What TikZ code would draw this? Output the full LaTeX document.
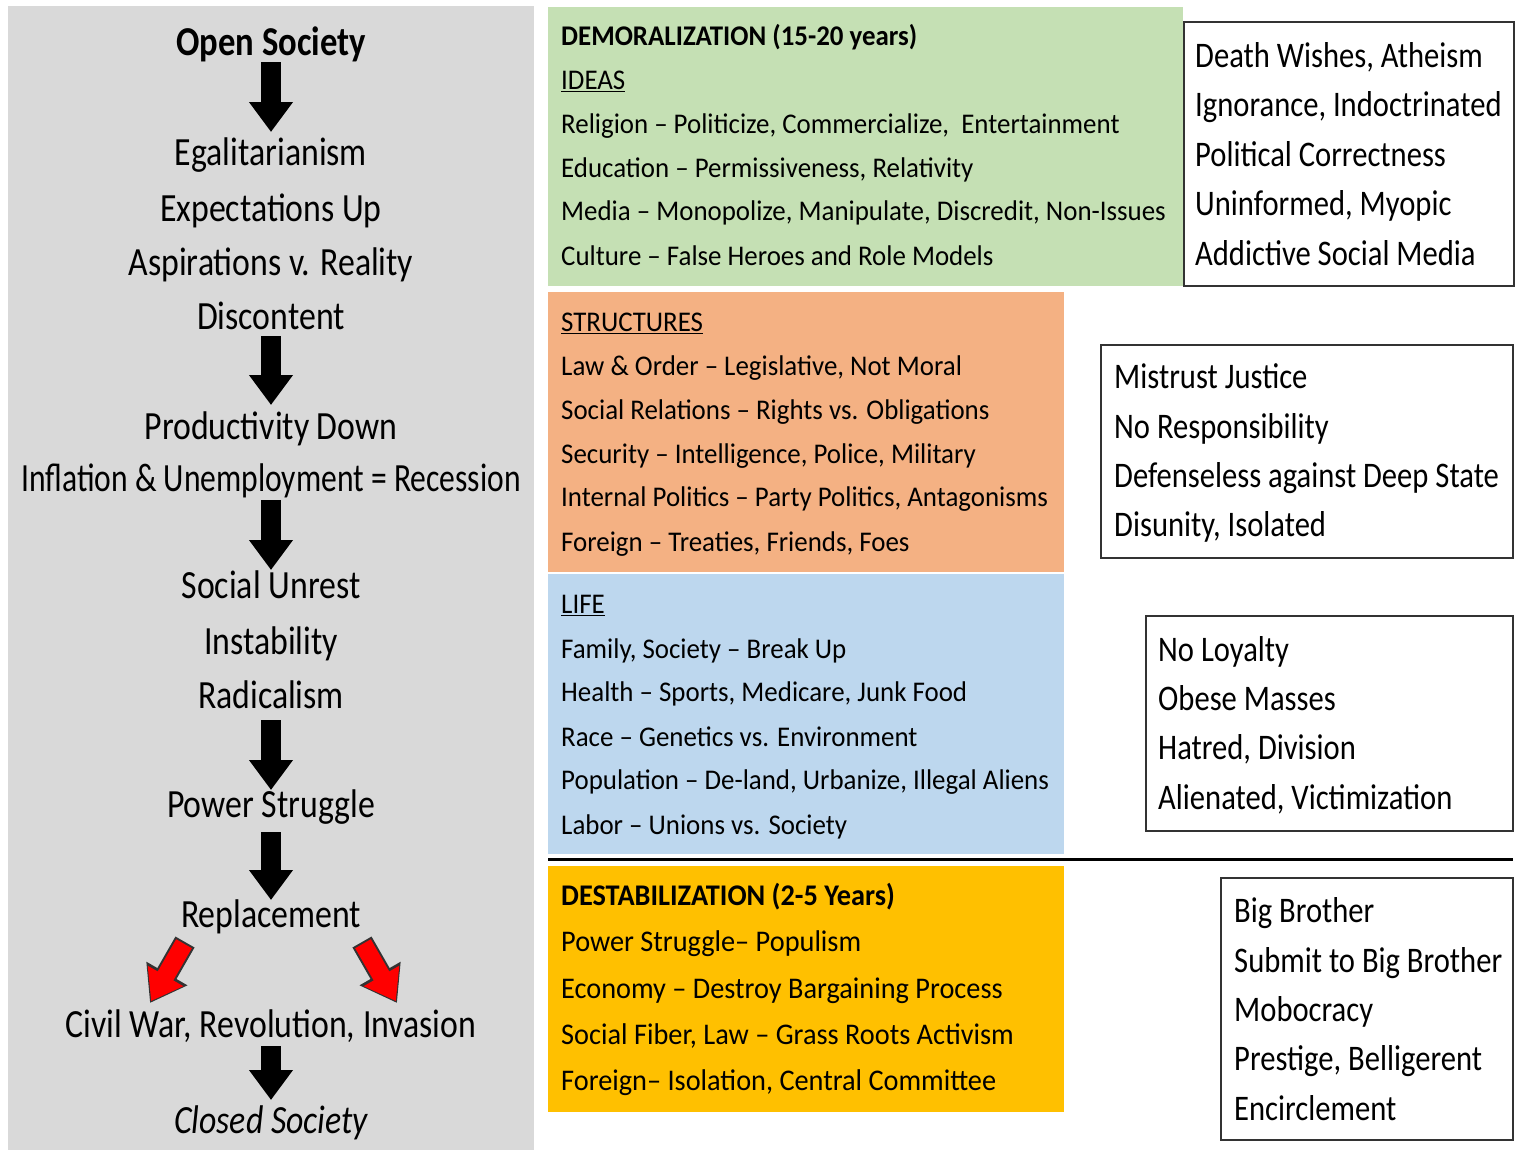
\documentclass[tikz,border=0pt]{standalone}
\usepackage{fontspec}
\setmainfont{Carlito}
\newfontfamily\lfont{Carlito}[FakeStretch=0.845]
\newfontfamily\lfontn{Carlito}[FakeStretch=0.79]
\newfontfamily\cfont{Carlito}[FakeStretch=0.944]
\newfontfamily\bfont{Carlito}[FakeStretch=0.85]
\usetikzlibrary{arrows.meta,calc}
\definecolor{panel}{HTML}{D9D9D9}
\definecolor{cgreen}{HTML}{C5E0B4}
\definecolor{corange}{HTML}{F4B183}
\definecolor{cblue}{HTML}{BDD7EE}
\definecolor{cyellow}{HTML}{FFC000}
\definecolor{cred}{HTML}{FF0000}
\begin{document}
\begin{tikzpicture}[x=1pt,y=-1pt,
  ltxt/.style={inner sep=0pt, font=\lfont\fontsize{40}{48}\selectfont, anchor=mid, yshift=-11pt},
  ctxt/.style={inner sep=0pt, font=\cfont\fontsize{28.5}{34}\selectfont, anchor=mid west, yshift=-7pt},
  ytxt/.style={ctxt, font=\cfont\fontsize{30}{36}\selectfont},
  btxt/.style={inner sep=0pt, font=\bfont\fontsize{36}{43}\selectfont, anchor=mid west, yshift=-9pt},
  blk/.style={line width=20pt, -{Triangle[width=42pt,length=30pt]}},
  redout/.style={line width=22pt, draw=black!80, -{Triangle[width=45pt,length=34pt]}},
  redin/.style={line width=18pt, draw=cred, shorten >=2.2pt, shorten <=2pt, -{Triangle[width=39pt,length=29pt]}},
  obox/.style={draw=black!80, line width=1.5pt, fill=white}]
\useasboundingbox (0,0) rectangle (1518,1152);
\fill[white] (0,0) rectangle (1518,1152);
% panels
\fill[panel] (8,6) rectangle (534,1150);
\fill[cgreen] (548,7) rectangle (1183,286);
\fill[corange] (548,292) rectangle (1064,572);
\fill[cblue] (548,574) rectangle (1064,854);
\fill[cyellow] (548,866) rectangle (1064,1112);
\draw[line width=3pt] (548,859) -- (1513,859);
\draw[obox] (1184,22) rectangle (1514,286);
\draw[obox] (1101,345) rectangle (1513,558);
\draw[obox] (1146,616) rectangle (1513,831);
\draw[obox] (1221,878) rectangle (1513,1140);
% left column
\node[ltxt, font=\lfont\fontsize{41}{48}\selectfont\bfseries] (os) at (271,42) {Open Society};
\node[ltxt] (eg) at (271,152) {Egalitarianism};
\node[ltxt] (eu) at (271,208) {Expectations Up};
\node[ltxt] (av) at (271,262) {Aspirations v. Reality};
\node[ltxt] (dc) at (271,316) {Discontent};
\node[ltxt] (pd) at (271,426) {Productivity Down};
\node[ltxt, font=\lfontn\fontsize{40}{48}\selectfont] (ir) at (271,478) {Inflation \& Unemployment = Recession};
\node[ltxt] (su) at (271,585) {Social Unrest};
\node[ltxt] (in) at (271,641) {Instability};
\node[ltxt] (ra) at (271,695) {Radicalism};
\node[ltxt] (ps) at (271,804) {Power Struggle};
\node[ltxt] (rp) at (271,914) {Replacement};
\node[ltxt] (cw) at (271,1024) {Civil War, Revolution, Invasion};
\node[ltxt, font=\lfont\fontsize{40}{48}\selectfont\itshape] (cs) at (271,1120) {Closed Society};
% black arrows
\draw[blk] ($(os.mid)+(0,9)$) -- ($(eg.mid)+(0,-31)$);
\draw[blk] ($(dc.mid)+(0,9)$) -- ($(pd.mid)+(0,-32)$);
\draw[blk] ($(ir.mid)+(0,11)$) -- ($(su.mid)+(0,-26)$);
\draw[blk] ($(ra.mid)+(0,14)$) -- ($(ps.mid)+(0,-25)$);
\draw[blk] ($(ps.mid)+(0,17)$) -- ($(rp.mid)+(0,-25)$);
\draw[blk] ($(cw.mid)+(0,11)$) -- ($(cs.mid)+(0,-31)$);
% red arrows
\draw[redout] ($(rp.mid)+(-86,17)$) -- ($(cw.mid)+(-121,-32)$);
\draw[redin] ($(rp.mid)+(-86,17)$) -- ($(cw.mid)+(-121,-32)$);
\draw[redout] ($(rp.mid)+(91,17)$) -- ($(cw.mid)+(126,-32)$);
\draw[redin] ($(rp.mid)+(91,17)$) -- ($(cw.mid)+(126,-32)$);
% green
\node[ctxt, font=\cfont\fontsize{28.5}{34}\selectfont\bfseries] (g0) at (561,36) {DEMORALIZATION (15-20 years)};
\node[ctxt] (g1) at (561,80) {\underline{IDEAS}};
\node[ctxt] (g2) at (561,124) {Religion – Politicize, Commercialize, \ Entertainment};
\node[ctxt] (g3) at (561,168) {Education – Permissiveness, Relativity};
\node[ctxt] (g4) at (561,211) {Media – Monopolize, Manipulate, Discredit, Non-Issues};
\node[ctxt] (g5) at (561,256) {Culture – False Heroes and Role Models};
% orange
\node[ctxt] (o1) at (561,322) {\underline{STRUCTURES}};
\node[ctxt] (o2) at (561,366) {Law \& Order – Legislative, Not Moral};
\node[ctxt] (o3) at (561,410) {Social Relations – Rights vs. Obligations};
\node[ctxt] (o4) at (561,454) {Security – Intelligence, Police, Military};
\node[ctxt] (o5) at (561,497) {Internal Politics – Party Politics, Antagonisms};
\node[ctxt] (o6) at (561,542) {Foreign – Treaties, Friends, Foes};
% blue
\node[ctxt] (b1) at (561,604) {\underline{LIFE}};
\node[ctxt] (b2) at (561,649) {Family, Society – Break Up};
\node[ctxt] (b3) at (561,692) {Health – Sports, Medicare, Junk Food};
\node[ctxt] (b4) at (561,737) {Race – Genetics vs. Environment};
\node[ctxt] (b5) at (561,780) {Population – De-land, Urbanize, Illegal Aliens};
\node[ctxt] (b6) at (561,825) {Labor – Unions vs. Society};
% yellow
\node[ytxt, font=\cfont\fontsize{30}{36}\selectfont\bfseries] (y0) at (561,896) {DESTABILIZATION (2-5 Years)};
\node[ytxt] (y1) at (561,942) {Power Struggle– Populism};
\node[ytxt] (y2) at (561,989) {Economy – Destroy Bargaining Process};
\node[ytxt] (y3) at (561,1035) {Social Fiber, Law – Grass Roots Activism};
\node[ytxt] (y4) at (561,1081) {Foreign– Isolation, Central Committee};
% boxes
\node[btxt] (r11) at (1195,56) {Death Wishes, Atheism};
\node[btxt] (r12) at (1195,105) {Ignorance, Indoctrinated};
\node[btxt] (r13) at (1195,155) {Political Correctness};
\node[btxt] (r14) at (1195,204) {Uninformed, Myopic};
\node[btxt] (r15) at (1195,254) {Addictive Social Media};
\node[btxt] (r21) at (1114,377) {Mistrust Justice};
\node[btxt] (r22) at (1114,427) {No Responsibility};
\node[btxt] (r23) at (1114,476) {Defenseless against Deep State};
\node[btxt] (r24) at (1114,525) {Disunity, Isolated};
\node[btxt] (r31) at (1158,650) {No Loyalty};
\node[btxt] (r32) at (1158,699) {Obese Masses};
\node[btxt] (r33) at (1158,748) {Hatred, Division};
\node[btxt] (r34) at (1158,798) {Alienated, Victimization};
\node[btxt] (r41) at (1234,911) {Big Brother};
\node[btxt] (r42) at (1234,961) {Submit to Big Brother};
\node[btxt] (r43) at (1234,1010) {Mobocracy};
\node[btxt] (r44) at (1234,1059) {Prestige, Belligerent};
\node[btxt] (r45) at (1234,1109) {Encirclement};
\end{tikzpicture}
\end{document}
